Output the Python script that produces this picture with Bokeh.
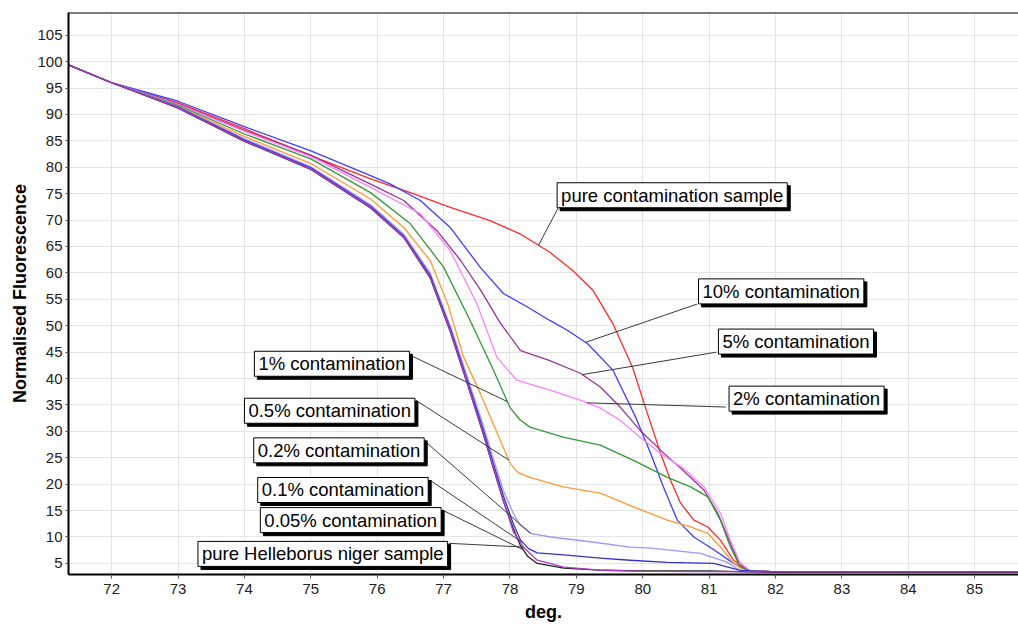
import numpy as np
from bokeh.plotting import figure
from bokeh.models import Label, Span, FixedTicker
from bokeh.embed import file_html
from bokeh.resources import INLINE

# ---------------- data ----------------
red_x = [71.35, 72.0, 73.0, 74.0, 75.0, 75.9, 76.5, 77.1, 77.7, 78.15, 78.6, 78.95, 79.25, 79.55, 79.85, 80.07, 80.27, 80.42, 80.57, 80.77, 80.98, 81.17, 81.37, 81.58, 82.0, 83.0, 84.0, 85.66]
red_y = [99.4, 96.0, 92.2, 87.3, 82.2, 77.8, 75.2, 72.4, 69.9, 67.4, 63.9, 60.4, 56.7, 50.4, 42.0, 33.4, 25.8, 20.7, 16.4, 13.2, 11.9, 9.4, 5.6, 3.7, 3.4, 3.4, 3.4, 3.4]

b10_x = [71.35, 72.0, 73.0, 74.0, 75.0, 75.9, 76.2, 76.65, 77.1, 77.55, 77.9, 78.27, 78.6, 78.87, 79.17, 79.55, 79.9, 80.12, 80.31, 80.52, 80.77, 81.07, 81.37, 81.58, 82.0, 85.66]
b10_y = [99.4, 96.0, 92.5, 87.7, 83.1, 78.4, 76.8, 73.7, 68.6, 61.1, 56.1, 53.5, 51.0, 49.1, 46.6, 41.6, 32.5, 25.8, 19.5, 13.2, 10.0, 7.6, 5.0, 3.7, 3.4, 3.4]

p5_x = [71.35, 72.0, 73.0, 74.0, 75.0, 75.9, 76.4, 76.9, 77.26, 77.56, 77.86, 78.16, 78.6, 79.06, 79.36, 79.66, 79.96, 80.27, 80.61, 80.92, 81.13, 81.28, 81.43, 81.58, 82.0, 85.66]
p5_y = [99.4, 96.0, 92.0, 87.0, 82.3, 76.8, 73.7, 68.0, 62.3, 56.7, 50.4, 45.3, 43.4, 41.0, 38.4, 34.6, 30.2, 26.4, 22.6, 18.9, 14.5, 10.0, 5.6, 3.7, 3.4, 3.4]

p2_x = [71.35, 72.0, 73.0, 74.0, 75.0, 75.9, 76.65, 77.1, 77.5, 77.8, 78.1, 78.6, 79.06, 79.36, 79.66, 79.96, 80.27, 80.61, 80.92, 81.17, 81.32, 81.47, 81.62, 82.0, 85.66]
p2_y = [99.4, 96.0, 91.9, 86.8, 82.0, 76.2, 71.2, 64.2, 54.2, 44.1, 39.7, 37.8, 35.9, 34.4, 32.1, 28.9, 25.8, 23.0, 19.5, 14.5, 9.4, 5.0, 3.6, 3.4, 3.4]

g1_x = [71.35, 72.0, 73.0, 74.0, 75.0, 75.9, 76.5, 77.0, 77.4, 77.75, 78.0, 78.15, 78.3, 78.8, 79.36, 79.86, 80.37, 80.72, 80.98, 81.17, 81.32, 81.47, 81.62, 82.0, 85.66]
g1_y = [99.4, 96.0, 91.7, 86.3, 81.6, 75.2, 69.3, 61.1, 51.0, 41.6, 34.5, 32.2, 30.8, 28.9, 27.4, 24.5, 21.3, 19.5, 17.6, 13.2, 8.1, 4.3, 3.6, 3.4, 3.4]

o05_x = [71.35, 72.0, 73.0, 74.0, 75.0, 75.9, 76.4, 76.8, 77.06, 77.3, 77.56, 77.66, 77.81, 78.0, 78.12, 78.3, 78.8, 79.36, 79.86, 80.37, 80.72, 80.98, 81.17, 81.37, 81.52, 82.0, 85.66]
o05_y = [99.4, 96.0, 91.5, 85.8, 80.7, 74.0, 68.6, 62.3, 54.2, 44.1, 37.0, 34.0, 29.6, 24.0, 22.2, 21.3, 19.5, 18.3, 15.7, 13.2, 11.9, 10.7, 8.1, 5.0, 3.7, 3.4, 3.4]

lb02_x = [71.35, 72.0, 73.0, 74.0, 75.0, 75.9, 76.4, 76.8, 77.1, 77.36, 77.6, 77.75, 77.9, 78.05, 78.15, 78.31, 78.61, 79.21, 79.81, 80.12, 80.87, 81.28, 81.47, 82.0, 85.66]
lb02_y = [99.4, 96.0, 91.5, 85.4, 80.1, 72.9, 67.3, 59.9, 50.0, 40.2, 31.0, 24.8, 18.8, 14.5, 12.3, 10.7, 10.0, 9.1, 8.1, 7.9, 6.9, 5.2, 3.6, 3.4, 3.4]

b01_x = [71.35, 72.0, 73.0, 74.0, 75.0, 75.9, 76.4, 76.8, 77.1, 77.36, 77.6, 77.75, 77.9, 78.05, 78.16, 78.28, 78.41, 78.81, 79.36, 79.81, 80.37, 81.07, 81.47, 82.0, 85.66]
b01_y = [99.4, 96.0, 91.4, 85.2, 79.9, 72.6, 67.0, 59.5, 49.5, 39.6, 30.2, 23.9, 17.8, 12.5, 9.4, 7.8, 7.0, 6.6, 6.0, 5.6, 5.2, 5.0, 3.7, 3.4, 3.4]

bk005_x = [71.35, 72.0, 73.0, 74.0, 75.0, 75.9, 76.4, 76.8, 77.1, 77.36, 77.6, 77.75, 77.9, 78.05, 78.16, 78.27, 78.41, 78.81, 79.4, 80.0, 81.0, 81.6, 82.0, 85.66]
bk005_y = [99.4, 96.0, 91.2, 84.9, 79.6, 72.3, 66.7, 59.0, 48.9, 38.9, 29.4, 23.0, 16.8, 11.6, 8.3, 6.3, 5.0, 4.1, 3.7, 3.6, 3.6, 3.4, 3.3, 3.3]

ph_x = [71.35, 72.0, 73.0, 74.0, 75.0, 75.9, 76.4, 76.8, 77.1, 77.36, 77.6, 77.75, 77.9, 78.05, 78.2, 78.41, 78.81, 79.41, 80.0, 82.0, 85.66]
ph_y = [99.4, 96.0, 91.3, 85.0, 79.7, 72.4, 66.8, 59.2, 49.1, 39.1, 29.6, 23.2, 17.0, 11.0, 8.1, 5.6, 4.3, 3.7, 3.5, 3.4, 3.4]

series_names = ["pure contamination sample", "10% contamination", "5% contamination",
                "2% contamination", "1% contamination", "0.5% contamination",
                "0.2% contamination", "0.1% contamination", "0.05% contamination",
                "pure Helleborus niger sample"]
series_x = [red_x, b10_x, p5_x, p2_x, g1_x, o05_x, lb02_x, b01_x, bk005_x, ph_x]
series_y = [red_y, b10_y, p5_y, p2_y, g1_y, o05_y, lb02_y, b01_y, bk005_y, ph_y]

x_ticks = list(range(72, 86))
y_ticks = list(range(5, 110, 5))
x_title = "deg."
y_title = "Normalised Fluorescence"

# ---------------- styles / layout ----------------
colors = ["#ff2a2a", "#3d3dff", "#993399", "#ff80ff", "#339933", "#ff9933",
          "#9999ff", "#3333cc", "#222222", "#b03cc8"]

# label layout: text left x, text middle y, leader start (x, y), leader end x on the curve
label_pos = [
    (78.71, 74.7, 78.73, 72.4, 78.43),
    (80.84, 56.5, 80.82, 54.1, 79.14),
    (81.14, 47.0, 81.11, 45.0, 79.09),
    (81.30, 36.2, 81.25, 34.6, 79.16),
    (74.15, 42.8, 76.50, 44.4, 77.96),
    (74.00, 33.9, 76.58, 35.9, 77.98),
    (74.14, 26.4, 76.73, 28.0, 78.31),
    (74.20, 18.9, 76.80, 20.7, 78.20),
    (74.24, 13.2, 76.98, 15.1, 78.20),
    (73.30, 6.8, 77.08, 8.8, 78.20),
]

FONT = "Liberation Sans"
LABEL_SIZE = "18.5px"
X0, X1, Y0, Y1 = 71.35, 85.66, 2.9, 109.3

p = figure(width=1018, height=626, x_range=(X0, X1), y_range=(Y0, Y1),
           output_backend="svg", toolbar_location=None,
           min_border_left=68, min_border_right=0, min_border_top=12, min_border_bottom=52,
           background_fill_color="white", border_fill_color="white")
p.outline_line_color = None

for ax in (p.xaxis[0], p.yaxis[0]):
    ax.axis_line_color = "black"
    ax.axis_line_width = 2
    ax.major_tick_line_color = "#555555"
    ax.major_tick_in = 0
    ax.minor_tick_line_color = None
    ax.major_label_text_font = FONT
    ax.major_label_text_font_size = "15px"
    ax.major_label_text_color = "#222222"
    ax.axis_label_text_font = FONT
    ax.axis_label_text_font_size = "18px"
    ax.axis_label_text_font_style = "bold"
    ax.axis_label_text_color = "black"

p.xaxis.ticker = FixedTicker(ticks=x_ticks)
p.yaxis.ticker = FixedTicker(ticks=y_ticks)
p.xaxis.major_tick_out = 4
p.yaxis.major_tick_out = 3
p.xaxis.major_label_standoff = 5
p.yaxis.major_label_standoff = 3
p.xaxis.axis_label = x_title
p.xaxis.axis_label_standoff = 5
p.yaxis.axis_label = y_title
p.yaxis.axis_label_standoff = 4

p.xgrid.grid_line_color = "#e4e4e4"
p.ygrid.grid_line_color = "#e4e4e4"
p.xgrid.ticker = FixedTicker(ticks=x_ticks)
p.ygrid.ticker = FixedTicker(ticks=y_ticks)

p.add_layout(Span(location=Y1, dimension="width", line_color="black", line_width=2))

for xs, ys, c in zip(series_x, series_y, colors):
    p.line(xs, ys, line_color=c, line_width=1.3, line_join="round")

# leader lines
x0s, y0s, x1s, y1s = [], [], [], []
for (tx, ty, sx, sy, ex), xs, ys in zip(label_pos, series_x, series_y):
    x0s.append(sx); y0s.append(sy)
    x1s.append(ex); y1s.append(float(np.interp(ex, xs, ys)))
p.segment(x0s, y0s, x1s, y1s, line_color="#3a3a3a", line_width=1)

# labels with drop shadows
for name, (tx, ty, sx, sy, ex) in zip(series_names, label_pos):
    shadow = Label(x=tx, y=ty, text=name, x_offset=3, y_offset=-3,
                   text_font=FONT, text_font_size=LABEL_SIZE, text_color="black",
                   text_align="left", text_baseline="middle",
                   background_fill_color="black", border_line_color="black",
                   padding=dict(x=4, y=2))
    lab = Label(x=tx, y=ty, text=name,
                text_font=FONT, text_font_size=LABEL_SIZE, text_color="black",
                text_align="left", text_baseline="middle",
                background_fill_color="white", border_line_color="black",
                border_line_width=1, padding=dict(x=4, y=2))
    p.add_layout(shadow)
    p.add_layout(lab)

open("out.html", "w").write(file_html(p, INLINE))
